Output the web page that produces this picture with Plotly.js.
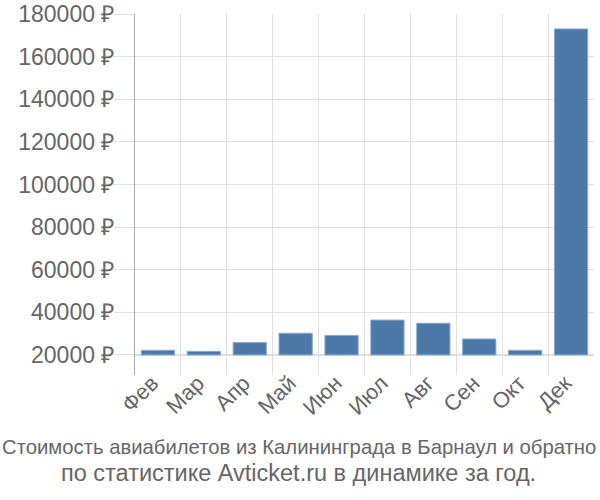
<!DOCTYPE html>
<html>
<head>
<meta charset="utf-8">
<script src="https://cdn.plot.ly/plotly-3.0.1.min.js"></script>
<style>html,body{margin:0;padding:0;background:#fff}</style>
</head>
<body>
<div id="chart" style="width:600px;height:500px"></div>
<script>
const months = ["Фев","Мар","Апр","Май","Июн","Июл","Авг","Сен","Окт","Дек"];
const prices = [22200, 21700, 25800, 30200, 29200, 36400, 34900, 27500, 22200, 173000];
const BASE = 20000;
const captionLines = ["Стоимость авиабилетов из Калининграда в Барнаул и обратно", "по статистике Avticket.ru в динамике за год."];

const trace = {
  type: "bar",
  x: months,
  y: prices.map(p => p - BASE),
  base: BASE,
  marker: {color: "#4d79a8", line: {color: "#8eaacb", width: 1}},
  width: 0.725,
  hoverinfo: "skip"
};

const layout = {
  width: 600, height: 500,
  margin: {l: 135, r: 6, t: 14, b: 125},
  paper_bgcolor: "#fff", plot_bgcolor: "#fff",
  font: {family: "Liberation Sans, Arial, sans-serif", color: "#666"},
  showlegend: false,
  xaxis: {
    type: "category",
    tickson: "boundaries",
    showgrid: true, gridcolor: "#e0e0e0", gridwidth: 1,
    ticks: "", tickangle: -45,
    ticklabelstandoff: -10, ticklabelshift: -6,
    tickfont: {size: 22, color: "#666"},
    showline: false, zeroline: false
  },
  yaxis: {
    range: [10600, 180000],
    tick0: 0, dtick: 20000,
    tickformat: "d", ticksuffix: " ₽",
    showgrid: true, gridcolor: "#e0e0e0", gridwidth: 1,
    ticks: "outside", ticklen: 20, tickcolor: "#e0e0e0",
    ticklabelstandoff: -5,
    tickfont: {size: 23, color: "#666"},
    showline: true, linecolor: "#aaa", linewidth: 1,
    zeroline: false
  },
  shapes: [{
    type: "line", xref: "paper", yref: "y",
    x0: 0, x1: 1, y0: BASE, y1: BASE,
    line: {color: "#cfcfcf", width: 1.5}, layer: "below"
  }],
  annotations: [
    {text: captionLines[0], xref: "paper", yref: "paper", x: 0.3564, xanchor: "center",
     y: -0.199, yanchor: "middle", showarrow: false,
     font: {size: 20.3, color: "#666"}},
    {text: captionLines[1], xref: "paper", yref: "paper", x: 0.3564, xanchor: "center",
     y: -0.271, yanchor: "middle", showarrow: false,
     font: {size: 23.5, color: "#666"}}
  ]
};
Plotly.newPlot("chart", [trace], layout, {staticPlot: true, displayModeBar: false});
</script>
</body>
</html>
